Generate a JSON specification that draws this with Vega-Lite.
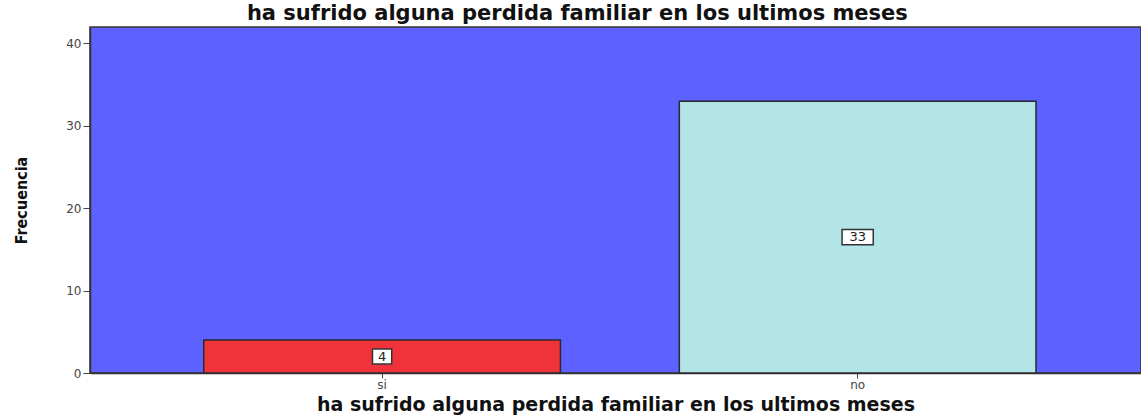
{
  "$schema": "https://vega.github.io/schema/vega-lite/v6.json",
  "autosize": {"type": "none"},
  "padding": {"left": 90, "top": 27, "right": 0, "bottom": 42},
  "width": 1051,
  "height": 346,
  "background": "white",
  "config": {
    "view": {"fill": "#5D61FF", "stroke": "#333333", "strokeWidth": 1.5},
    "font": "DejaVu Sans"
  },
  "title": {
    "text": "ha sufrido alguna perdida familiar en los ultimos meses",
    "font": "DejaVu Sans",
    "fontSize": 21,
    "fontWeight": "bold",
    "color": "#111111",
    "anchor": "middle",
    "frame": "bounds",
    "offset": 3
  },
  "data": {
    "values": [
      {"cat": "si", "value": 4},
      {"cat": "no", "value": 33}
    ]
  },
  "transform": [{"calculate": "datum.value / 2", "as": "mid"}],
  "encoding": {
    "x": {
      "field": "cat",
      "type": "nominal",
      "sort": ["si", "no"],
      "scale": {"paddingInner": 0.25, "paddingOuter": 0.23, "align": 0.52},
      "axis": {
        "title": "ha sufrido alguna perdida familiar en los ultimos meses",
        "titleFont": "DejaVu Sans",
        "titleFontSize": 19,
        "titleFontWeight": "bold",
        "titleColor": "#111111",
        "titlePadding": 5,
        "labelAngle": 0,
        "labelFont": "DejaVu Sans",
        "labelFontSize": 12,
        "labelColor": "#444444",
        "labelPadding": 1,
        "tickSize": 5,
        "tickColor": "#444444",
        "domainColor": "#333333",
        "domainWidth": 1.5
      }
    }
  },
  "layer": [
    {
      "mark": {"type": "bar", "stroke": "#2a2a2a", "strokeWidth": 1.5},
      "encoding": {
        "y": {
          "field": "value",
          "type": "quantitative",
          "scale": {"domain": [0, 42], "nice": false},
          "axis": {
            "values": [0, 10, 20, 30, 40],
            "title": "Frecuencia",
            "titleFont": "DejaVu Sans Condensed",
            "titleFontSize": 16,
            "titleFontWeight": "bold",
            "titleColor": "#111111",
            "titlePadding": 36,
            "labelFont": "DejaVu Sans",
            "labelFontSize": 12,
            "labelColor": "#444444",
            "labelPadding": 2,
            "tickSize": 7,
            "tickColor": "#444444",
            "domainColor": "#333333",
            "domainWidth": 1.5,
            "grid": false
          }
        },
        "color": {
          "field": "cat",
          "type": "nominal",
          "scale": {"domain": ["si", "no"], "range": ["#F0333A", "#B3E5E8"]},
          "legend": null
        }
      }
    },
    {
      "mark": {"type": "point", "filled": true, "fill": "white", "stroke": "#333333", "strokeWidth": 1.5, "opacity": 1, "size": 256},
      "encoding": {
        "y": {"field": "mid", "type": "quantitative"},
        "shape": {
          "field": "cat",
          "type": "nominal",
          "scale": {"domain": ["si", "no"], "range": ["M-1.2,-0.95H1.2V0.95H-1.2Z", "M-1.95,-0.95H1.95V0.95H-1.95Z"]},
          "legend": null
        }
      }
    },
    {
      "mark": {"type": "text", "fontSize": 13, "color": "#222222", "baseline": "middle", "align": "center", "font": "DejaVu Sans"},
      "encoding": {
        "y": {"field": "mid", "type": "quantitative"},
        "text": {"field": "value", "type": "quantitative"}
      }
    }
  ]
}
